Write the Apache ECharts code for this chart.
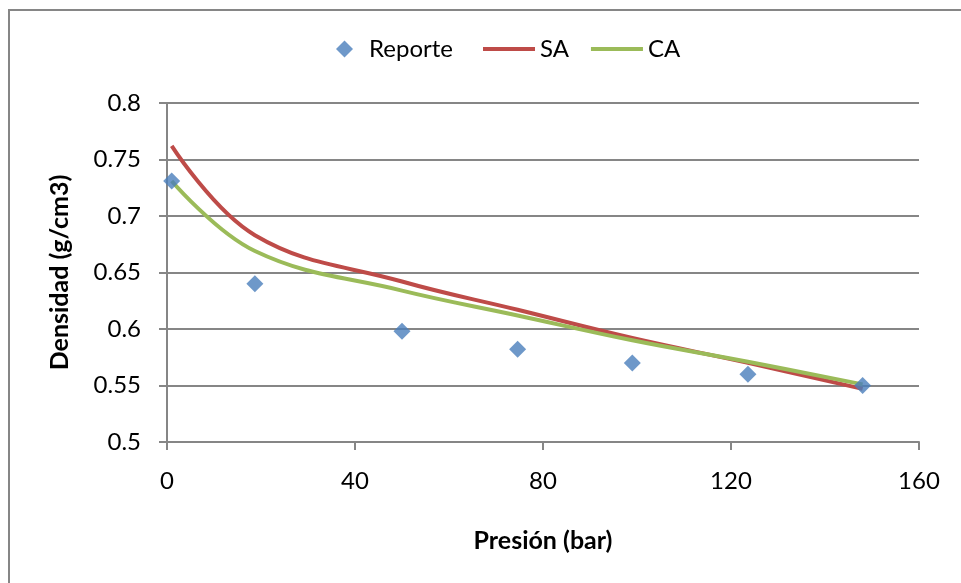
<!DOCTYPE html>
<html>
<head>
<meta charset="utf-8">
<script src="https://cdn.jsdelivr.net/npm/echarts@6/dist/echarts.min.js"></script>
<style>
  html, body { margin: 0; padding: 0; background: #ffffff; }
  #chart { width: 961px; height: 583px; }
</style>
</head>
<body>
<div id="chart"></div>
<script>
// Presión (bar) for each measurement
const presion = [1, 18.7, 50, 74.6, 99, 123.6, 148];
// Reported density values (g/cm3)
const reporte = [0.731, 0.640, 0.598, 0.582, 0.570, 0.560, 0.550];
// Model densities: SA and CA
const sa = [0.762, 0.683, 0.642, 0.617, 0.592, 0.570, 0.547];
const ca = [0.731, 0.669, 0.634, 0.612, 0.590, 0.571, 0.551];
// Axis ticks
const xTicks = [0, 40, 80, 120, 160];
const yTicks = [0.5, 0.55, 0.6, 0.65, 0.7, 0.75, 0.8];

const FONT = 'Lato';
const GRAY = '#868686';

const pairs = (xs, ys) => xs.map((x, i) => [x, ys[i]]);

const chart = echarts.init(document.getElementById('chart'), null, { renderer: 'canvas' });

chart.setOption({
  backgroundColor: '#ffffff',
  animation: false,
  textStyle: { fontFamily: FONT, color: '#000000' },
  graphic: [{
    type: 'rect',
    shape: { x: 9, y: 10, width: 980, height: 600 },
    style: { fill: 'none', stroke: GRAY, lineWidth: 2 },
    z: -10
  }],
  legend: [{
    data: [{ name: 'Reporte', icon: 'diamond' }],
    left: 331,
    top: 32,
    itemWidth: 17,
    itemHeight: 17,
    textStyle: { fontFamily: FONT, fontSize: 24, color: '#000', padding: [0, 0, 0, 11] }
  }, {
    data: [{ name: 'SA' }, { name: 'CA' }],
    left: 478,
    top: 32,
    itemWidth: 52,
    itemHeight: 4,
    itemGap: 22,
    icon: 'rect',
    textStyle: { fontFamily: FONT, fontSize: 24, color: '#000' }
  }],
  grid: { left: 167, right: 42, top: 103, bottom: 141, containLabel: false },
  xAxis: {
    type: 'value',
    min: xTicks[0],
    max: xTicks[xTicks.length - 1],
    interval: xTicks[1] - xTicks[0],
    name: 'Presión (bar)',
    nameLocation: 'middle',
    nameGap: 86,
    nameTextStyle: { fontFamily: FONT, fontSize: 25, fontWeight: 'bold', color: '#000' },
    axisLine: { show: true, lineStyle: { color: GRAY, width: 2 } },
    axisTick: { show: true, inside: false, length: 8, lineStyle: { color: GRAY, width: 2 } },
    axisLabel: { margin: 27, fontFamily: FONT, fontSize: 24, color: '#000' },
    splitLine: { show: false }
  },
  yAxis: {
    type: 'value',
    min: yTicks[0],
    max: yTicks[yTicks.length - 1],
    interval: 0.05,
    name: 'Densidad (g/cm3)',
    nameLocation: 'middle',
    nameGap: 95,
    nameRotate: 90,
    nameTextStyle: { fontFamily: FONT, fontSize: 25, fontWeight: 'bold', color: '#000' },
    axisLine: { show: true, lineStyle: { color: GRAY, width: 2 } },
    axisTick: { show: true, inside: false, length: 8, lineStyle: { color: GRAY, width: 2 } },
    axisLabel: {
      margin: 26, fontFamily: FONT, fontSize: 24, color: '#000',
      formatter: v => String(parseFloat(v.toFixed(2)))
    },
    splitLine: { show: true, lineStyle: { color: GRAY, width: 2 } }
  },
  series: [{
    name: 'SA',
    type: 'line',
    data: pairs(presion, sa),
    smooth: 0.4,
    showSymbol: false,
    symbol: 'none',
    color: '#BE4B48',
    lineStyle: { color: '#BE4B48', width: 4 },
    z: 2
  }, {
    name: 'CA',
    type: 'line',
    data: pairs(presion, ca),
    smooth: 0.4,
    showSymbol: false,
    symbol: 'none',
    color: '#9BBB59',
    lineStyle: { color: '#9BBB59', width: 4 },
    z: 3
  }, {
    name: 'Reporte',
    type: 'scatter',
    data: pairs(presion, reporte),
    symbol: 'diamond',
    symbolSize: 17,
    itemStyle: { color: '#4A7EBB' },
    z: 4
  }]
});
</script>
</body>
</html>
